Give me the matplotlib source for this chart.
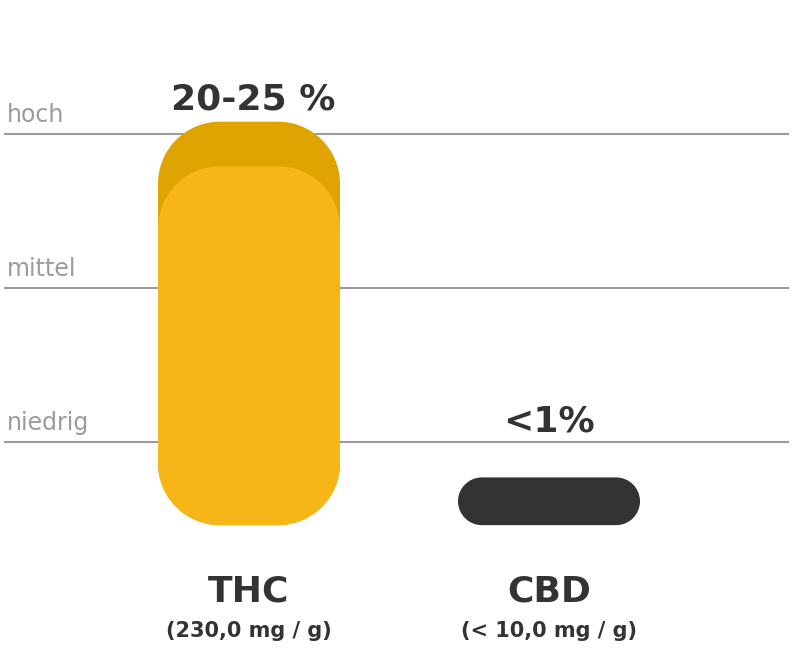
"""
THC / CBD content chart with rounded bars and level guide lines.
"""
import matplotlib
matplotlib.use('Agg')
import matplotlib.pyplot as plt
from matplotlib.path import Path
from matplotlib.patches import PathPatch

# data (y in "level" units: niedrig=1, mittel=2, hoch=3)
categories = ['THC', 'CBD']
sublabels = ['(230,0 mg / g)', '(< 10,0 mg / g)']
value_labels = ['20-25 %', '<1%']
bar_top = [2.79, 0.77]        # main bar top
bar_top_range = [3.08, None]  # upper end of range (darker cap)
bar_base = 0.46
levels = [1, 2, 3]
level_names = ['niedrig', 'mittel', 'hoch']

W, H = 794, 660
PX_X = 300.0   # pixels per category step
PX_Y = 154.0   # pixels per level
X0, Y0 = 249, 596  # pixel position of (0, 0)


def px2x(px):
    return (px - X0) / PX_X


def px2y(py):
    return (Y0 - py) / PX_Y


fig = plt.figure(figsize=(W / 100, H / 100), dpi=100)
ax = fig.add_axes([0, 0, 1, 1])
ax.set_xlim(px2x(0), px2x(W))
ax.set_ylim(px2y(H), px2y(0))
ax.axis('off')

grey = '#9b9b9b'
dark = '#333333'

# guide lines + level names
for lv, name in zip(levels, level_names):
    ax.axhline(lv, xmin=5 / W, xmax=788 / W, color=grey, linewidth=1.5, zorder=1)
    ax.text(px2x(7), lv + 12 / PX_Y, name, color=grey, fontsize=17,
            ha='left', va='baseline', zorder=1)

bar_w = 182 / PX_X
radius_px = 62
K = 0.5523  # cubic bezier constant for quarter circles


def rounded_bar(xc, y0, y1, color, z):
    # corners are circular in pixels, so rx / ry differ in data units
    h_px = (y1 - y0) * PX_Y
    r_px = min(radius_px, h_px / 2)
    rx, ry = r_px / PX_X, r_px / PX_Y
    x0, x1 = xc - bar_w / 2, xc + bar_w / 2
    verts = [
        (x0 + rx, y0), (x1 - rx, y0),
        (x1 - rx + K * rx, y0), (x1, y0 + ry - K * ry), (x1, y0 + ry),
        (x1, y1 - ry),
        (x1, y1 - ry + K * ry), (x1 - rx + K * rx, y1), (x1 - rx, y1),
        (x0 + rx, y1),
        (x0 + rx - K * rx, y1), (x0, y1 - ry + K * ry), (x0, y1 - ry),
        (x0, y0 + ry),
        (x0, y0 + ry - K * ry), (x0 + rx - K * rx, y0), (x0 + rx, y0),
        (x0 + rx, y0),
    ]
    codes = ([Path.MOVETO, Path.LINETO] + [Path.CURVE4] * 3 + [Path.LINETO]
             + [Path.CURVE4] * 3 + [Path.LINETO] + [Path.CURVE4] * 3
             + [Path.LINETO] + [Path.CURVE4] * 3 + [Path.CLOSEPOLY])
    ax.add_patch(PathPatch(Path(verts, codes), facecolor=color,
                           edgecolor='none', zorder=z))


for i, cat in enumerate(categories):
    if bar_top_range[i] is not None:
        rounded_bar(i, bar_base, bar_top_range[i], '#e0a400', 3)
        rounded_bar(i, bar_base, bar_top[i], '#f7b618', 4)
    else:
        rounded_bar(i, bar_base, bar_top[i], dark, 3)

# value labels
ax.text(px2x(253), px2y(109), value_labels[0], color=dark, fontsize=26,
        fontweight='bold', ha='center', va='baseline', zorder=5)
ax.text(px2x(549), px2y(431), value_labels[1], color=dark, fontsize=26,
        fontweight='bold', ha='center', va='baseline', zorder=5)

# category labels
for i, (cat, sub) in enumerate(zip(categories, sublabels)):
    ax.text(i, px2y(602), cat, color=dark, fontsize=26, fontweight='bold',
            ha='center', va='baseline')
    ax.text(i, px2y(637), sub, color=dark, fontsize=15, fontweight='bold',
            ha='center', va='baseline')

fig.savefig('out.png', dpi=100)
